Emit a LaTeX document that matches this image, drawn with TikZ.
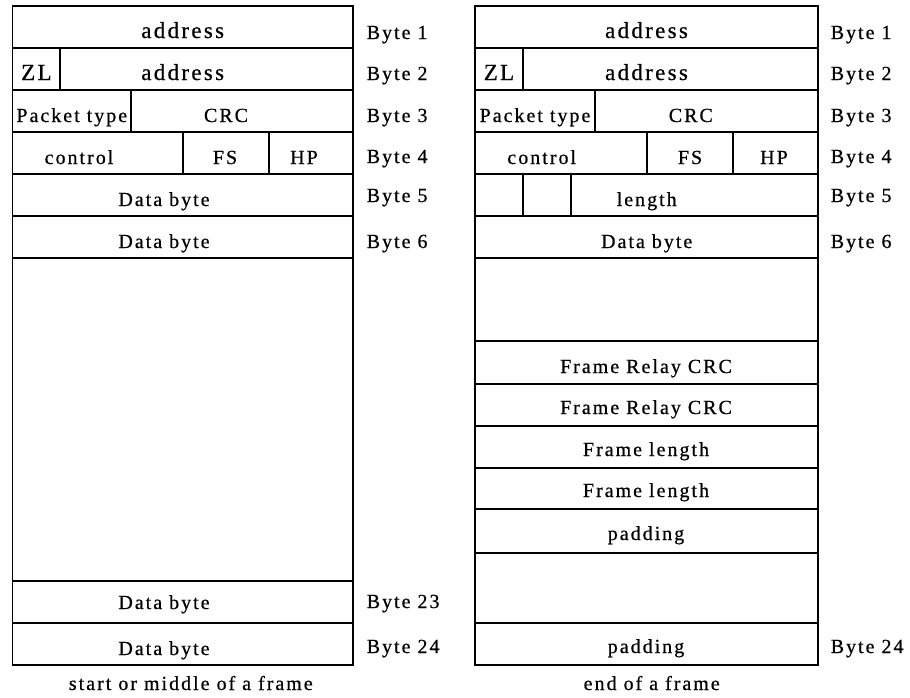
\documentclass[tikz,border=0pt]{standalone}
\usepackage{fontspec}
\setmainfont{Liberation Serif}[LetterSpace=10,FakeBold=0.6]

\begin{document}
\begin{tikzpicture}[x=1pt,y=-1pt,line width=1.5pt,
  field/.style={anchor=base,inner sep=0pt,font=\fontsize{20}{24}\selectfont},
  bigfield/.style={field,font=\fontsize{23}{27}\selectfont},
  bytelbl/.style={anchor=base west,inner sep=0pt,font=\fontsize{20}{24}\selectfont}]

\useasboundingbox (0,0) rectangle (910,697);

% Left frame: start or middle of a frame
\draw (12.7,6) rectangle (353,665);
\foreach \y in {48,90,132,174,216,258,581,623} \draw (12.7,\y) -- (353,\y);
\draw (60,48) -- (60,90);
\draw (131,90) -- (131,132);
\foreach \x in {183,269} \draw (\x,132) -- (\x,174);

\node[bigfield] (la1) at (182.7,38) {address};
\node[bigfield] (lzl) at (36.4,80) {ZL};
\node[bigfield] (la2) at (182.7,80) {address};
\node[field] (lpt) at (71.8,122) {Packet type};
\node[field] (lcrc) at (226,122) {CRC};
\node[field] (lctl) at (79,164) {control};
\node[field] (lfs) at (225,164) {FS};
\node[field] (lhp) at (304,164) {HP};
\node[field] (ld5) at (164,206) {Data byte};
\node[field] (ld6) at (164,248) {Data byte};
\node[field] (ld23) at (164,609) {Data byte};
\node[field] (ld24) at (164,655) {Data byte};

\foreach \n/\y in {1/39,2/80,3/122,4/163,5/202,6/248,23/608,24/653}
  \node[bytelbl] (lb\n) at (366,\y) {Byte \n};

\node[field] (lcap) at (190.8,690) {start or middle of a frame};

% Right frame: end of a frame
\draw (475,6) rectangle (818,665);
\foreach \y in {48,90,132,174,216,258,341,384,426,468,509,553,623} \draw (475,\y) -- (818,\y);
\draw (523,48) -- (523,90);
\draw (595,90) -- (595,132);
\foreach \x in {647,733} \draw (\x,132) -- (\x,174);
\foreach \x in {523,571} \draw (\x,174) -- (\x,216);

\node[bigfield] (ra1) at (646.5,38) {address};
\node[bigfield] (rzl) at (499,80) {ZL};
\node[bigfield] (ra2) at (646.5,80) {address};
\node[field] (rpt) at (535,122) {Packet type};
\node[field] (rcrc) at (690.8,122) {CRC};
\node[field] (rctl) at (541.7,164) {control};
\node[field] (rfs) at (690,164) {FS};
\node[field] (rhp) at (774,164) {HP};
\node[field] (rlen) at (646.7,206) {length};
\node[field] (rd6) at (646.7,248) {Data byte};
\node[field] (rfc1) at (646,373) {Frame Relay CRC};
\node[field] (rfc2) at (646,414) {Frame Relay CRC};
\node[field] (rfl1) at (646,456) {Frame length};
\node[field] (rfl2) at (646,497) {Frame length};
\node[field] (rpad1) at (646,540) {padding};
\node[field] (rpad2) at (646,653) {padding};

\foreach \n/\y in {1/39,2/80,3/122,4/163,5/202,6/248,24/653}
  \node[bytelbl] (rb\n) at (830,\y) {Byte \n};

\node[field] (rcap) at (651.7,690) {end of a frame};

\end{tikzpicture}
\end{document}
